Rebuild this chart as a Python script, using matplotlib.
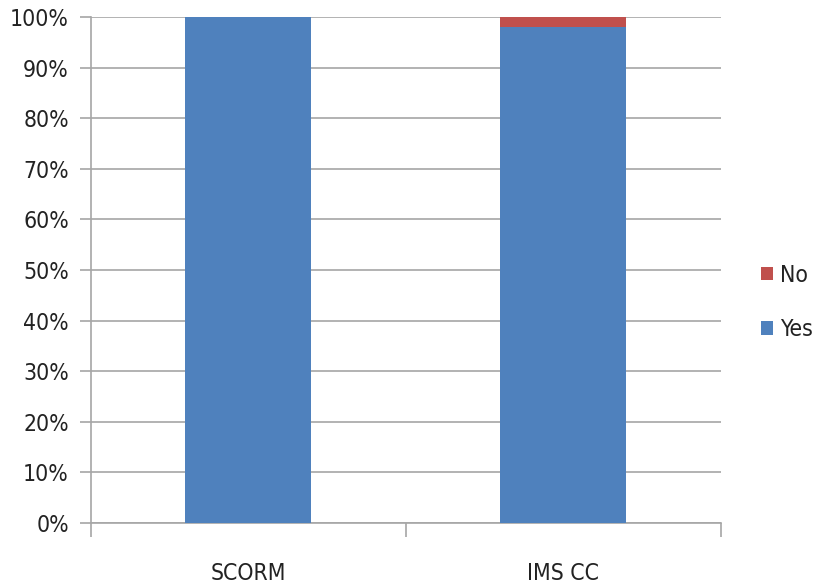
import numpy as np
import matplotlib.pyplot as plt
from matplotlib.ticker import PercentFormatter

# share of answers per standard (percent)
categories = ['SCORM', 'IMS CC']
yes_values = [100, 98]
no_values = [0, 2]

plt.rcParams['font.family'] = ['Liberation Sans Narrow', 'DejaVu Sans Condensed', 'DejaVu Sans']
plt.rcParams['font.stretch'] = 'condensed'

fig = plt.figure(figsize=(8.17, 5.85), dpi=100)
ax = fig.add_axes([0.1114, 0.106, 0.771, 0.865])

x = np.arange(len(categories))
bar_yes = ax.bar(x, yes_values, width=0.4, color='#4f81bd', label='Yes', zorder=3)
bar_no = ax.bar(x, no_values, width=0.4, bottom=yes_values, color='#c0504d', label='No', zorder=3)

ax.set_xlim(-0.5, len(categories) - 0.5)
ax.set_ylim(0, 100)
ax.set_yticks(np.arange(0, 101, 10))
ax.yaxis.set_major_formatter(PercentFormatter(decimals=0))
ax.grid(axis='y', color='#a6a6a6', linewidth=1.2, zorder=0)

# category boundary ticks under the axis, labels centred on the bars
ax.set_xticks([-0.5, 0.5, 1.5])
ax.set_xticklabels([])
ax.set_xticks(x, minor=True)
ax.set_xticklabels(categories, minor=True)
ax.tick_params(axis='x', which='major', length=10, color='#a6a6a6', width=1.2)
ax.tick_params(axis='x', which='minor', length=0, pad=28, labelsize=16.5, labelcolor='#222222')
ax.tick_params(axis='y', length=8, color='#a6a6a6', width=1.2, labelsize=16.5, labelcolor='#222222', pad=8)

for side in ['top', 'right']:
    ax.spines[side].set_visible(False)
ax.spines['left'].set_color('#a6a6a6')
ax.spines['bottom'].set_color('#a6a6a6')
ax.spines['left'].set_linewidth(1.2)
ax.spines['bottom'].set_linewidth(1.2)

ax.legend([bar_no, bar_yes], ['No', 'Yes'], loc='center left', bbox_to_anchor=(1.063, 0.436),
          frameon=False, fontsize=16.5, handlelength=0.55, handleheight=0.55,
          handletextpad=0.3, labelspacing=1.38, labelcolor='#222222',
          borderaxespad=0, borderpad=0)

plt.savefig('out.png', dpi=100)
